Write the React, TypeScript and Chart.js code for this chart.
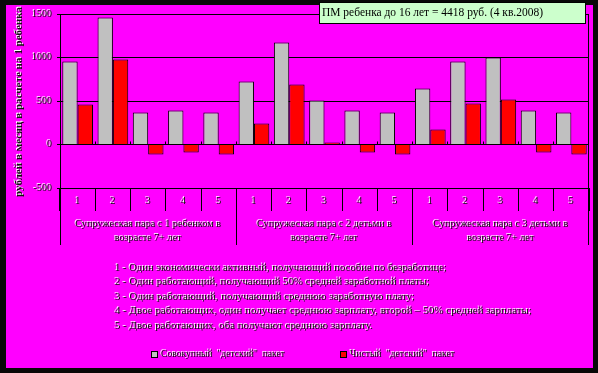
import { useEffect, useRef } from "react";
import { Chart, registerables } from "chart.js";

Chart.register(...registerables);

const categories = ["1", "2", "3", "4", "5", "1", "2", "3", "4", "5", "1", "2", "3", "4", "5"];
const groupLabels = [
  ["Супружеская пара с 1 ребенком в", "возрасте 7+ лет"],
  ["Супружеская пара с 2 детьми в", "возрасте 7+ лет"],
  ["Супружеская пара с 3 детьми в", "возрасте 7+ лет"],
];
const totalPackage = [954, 1460, 368, 391, 368, 724, 1172, 506, 391, 368, 644, 954, 1000, 391, 368];
const netPackage = [460, 977, -115, -92, -115, 241, 690, 23, -92, -115, 172, 471, 517, -92, -115];
const seriesNames = ['Совокупный  "детский"  пакет', 'Чистый  "детский"  пакет'];
const yMin = -500;
const yMax = 1500;
const yStep = 500;
const notes = [
  "1 - Один экономически активный, получающий пособие по безработице;",
  "2 - Один работающий, получающий 50% средней заработной платы;",
  "3 - Один работающий, получающий среднюю заработную плату;",
  "4 - Двое работающих, один получает среднюю зарплату, второй – 50% средней зарплаты;",
  "5 - Двое работающих, оба получают среднюю зарплату.",
];
const titleText = "ПМ ребенка до 16 лет = 4418 руб. (4 кв.2008)";
const yTitle = "рублей в месяц в расчете на 1 ребенка";

const SERIF = '"Liberation Serif", "Times New Roman", serif';
const MAGENTA = "#FF00FF";
const GRAY = "#C0C0C0";
const RED = "#FF0000";
const TEXT = "#111111";

const align = (p: number) => Math.round(p - 0.5) + 0.5;

function setShadow(ctx: CanvasRenderingContext2D, on: boolean) {
  ctx.shadowColor = on ? "#ffffff" : "rgba(0,0,0,0)";
  ctx.shadowOffsetX = on ? -1 : 0;
  ctx.shadowOffsetY = on ? -1 : 0;
  ctx.shadowBlur = 0;
}

function fitText(
  ctx: CanvasRenderingContext2D,
  text: string,
  x: number,
  y: number,
  font: string,
  targetWidth: number | null,
  alignMode: "left" | "center",
  fill: string,
  shadow: boolean,
  rotate = 0
) {
  ctx.save();
  ctx.font = font;
  ctx.textBaseline = "middle";
  ctx.textAlign = "left";
  const w = ctx.measureText(text).width;
  const sx = targetWidth ? targetWidth / w : 1;
  const realW = w * sx;
  ctx.translate(x, y);
  if (rotate) ctx.rotate(rotate);
  const left = alignMode === "center" ? -realW / 2 : 0;
  ctx.translate(left, 0);
  ctx.scale(sx, 1);
  setShadow(ctx, shadow);
  ctx.fillStyle = fill;
  ctx.fillText(text, 0, 0);
  ctx.restore();
}

const framePlugin = {
  id: "frame",
  beforeDraw(chart: any) {
    const ctx = chart.ctx as CanvasRenderingContext2D;
    ctx.save();
    ctx.fillStyle = "#080808";
    ctx.fillRect(0, 0, chart.width, chart.height);
    ctx.fillStyle = MAGENTA;
    ctx.fillRect(6, 5, 593 - 6, 368 - 5);
    ctx.restore();
  },
  afterDatasetsDraw(chart: any) {
    setShadow(chart.ctx, true);
  },
  afterDraw(chart: any) {
    const ctx = chart.ctx as CanvasRenderingContext2D;
    setShadow(ctx, false);
    const area = chart.chartArea;
    const xs = chart.scales.x;
    const ys = chart.scales.y;
    const y0 = align(ys.getPixelForValue(0));
    const boundary = (i: number) => {
      if (i <= 0) return area.left;
      if (i >= categories.length) return area.right;
      return (xs.getPixelForValue(i - 1) + xs.getPixelForValue(i)) / 2;
    };
    ctx.save();
    ctx.strokeStyle = "#000";
    ctx.lineWidth = 1;
    ctx.beginPath();
    const rx = Math.round(area.right) - 0.5;
    ctx.moveTo(rx, area.top);
    ctx.lineTo(rx, 245);
    for (let g = 0; g < groupLabels.length; g++) {
      const bx = align(boundary(g * 5));
      ctx.moveTo(bx, area.bottom);
      ctx.lineTo(bx, 245);
    }
    for (let i = 1; i < categories.length; i++) {
      const bx = align(boundary(i));
      ctx.moveTo(bx, y0 - 3);
      ctx.lineTo(bx, y0);
    }
    ctx.stroke();
    ctx.restore();

    const gWidths = [[146, 67], [135, 67], [135, 67]];
    groupLabels.forEach((lines, g) => {
      const cx = (boundary(g * 5) + boundary(g * 5 + 5)) / 2;
      fitText(ctx, lines[0], cx, 224, `11px ${SERIF}`, gWidths[g][0], "center", TEXT, true);
      fitText(ctx, lines[1], cx, 238, `11px ${SERIF}`, gWidths[g][1], "center", TEXT, true);
    });

    const noteEnds = [447, 430, 415, 532, 373];
    const noteYs = [268, 282.5, 297, 311.5, 326];
    notes.forEach((t, i) => {
      fitText(ctx, t, 115, noteYs[i], `11px ${SERIF}`, noteEnds[i] - 115, "left", TEXT, true);
    });

    ctx.save();
    ctx.strokeStyle = "#000";
    ctx.fillStyle = GRAY;
    ctx.fillRect(151.5, 351.5, 6, 6);
    ctx.strokeRect(151.5, 351.5, 6, 6);
    ctx.fillStyle = RED;
    ctx.fillRect(340.5, 351.5, 6, 6);
    ctx.strokeRect(340.5, 351.5, 6, 6);
    ctx.restore();
    fitText(ctx, seriesNames[0], 161, 354.5, `11px ${SERIF}`, 124, "left", TEXT, true);
    fitText(ctx, seriesNames[1], 350, 354.5, `11px ${SERIF}`, 105, "left", TEXT, true);

    ctx.save();
    ctx.fillStyle = "#CCFFCC";
    ctx.fillRect(319.5, 2.5, 266, 21);
    ctx.strokeStyle = "#000";
    ctx.lineWidth = 1;
    ctx.strokeRect(319.5, 2.5, 266, 21);
    ctx.restore();
    fitText(ctx, titleText, 322, 12.5, `13px ${SERIF}`, 221, "left", "#000000", false);

    fitText(ctx, yTitle, 19, 102, `bold 11px ${SERIF}`, 190, "center", TEXT, true, -Math.PI / 2);
  },
};

export default function App() {
  const ref = useRef<HTMLCanvasElement | null>(null);
  useEffect(() => {
    if (!ref.current) return;
    const chart = new Chart(ref.current, {
      type: "bar",
      data: {
        labels: categories,
        datasets: [
          {
            label: seriesNames[0],
            data: totalPackage,
            backgroundColor: GRAY,
            borderColor: "#000",
            borderWidth: 1,
            categoryPercentage: 0.87,
            barPercentage: 1,
          },
          {
            label: seriesNames[1],
            data: netPackage,
            backgroundColor: RED,
            borderColor: "#000",
            borderWidth: 1,
            categoryPercentage: 0.87,
            barPercentage: 1,
          },
        ],
      },
      options: {
        responsive: false,
        animation: false,
        events: [],
        layout: { padding: { top: 14, right: 9, left: 0, bottom: 0 } },
        plugins: { legend: { display: false }, tooltip: { enabled: false }, title: { display: false } },
        scales: {
          x: {
            type: "category",
            offset: true,
            grid: {
              display: true,
              drawOnChartArea: false,
              drawTicks: true,
              tickLength: 23,
              color: "#000",
              offset: true,
            },
            border: { display: true, color: "#000" },
            ticks: {
              color: TEXT,
              font: { family: SERIF, size: 10 },
              padding: -15.5,
              maxRotation: 0,
              autoSkip: false,
              z: 1,
            },
            afterFit: (s: any) => {
              s.height = 185;
            },
          },
          y: {
            min: yMin,
            max: yMax,
            grid: { color: "#000000", lineWidth: 1, tickLength: 3, drawTicks: true, z: -1 },
            border: { display: true, color: "#000" },
            ticks: {
              stepSize: yStep,
              color: TEXT,
              font: { family: SERIF, size: 10 },
              padding: 5,
              z: 1,
              callback: (v: any) => String(v),
            },
            afterFit: (s: any) => {
              s.width = 60;
            },
          },
        },
      },
      plugins: [framePlugin],
    });
    return () => chart.destroy();
  }, []);
  return (
    <div style={{ position: "absolute", left: 0, top: 0, width: 598, height: 373 }}>
      <canvas ref={ref} width={598} height={373} style={{ display: "block" }} />
    </div>
  );
}
